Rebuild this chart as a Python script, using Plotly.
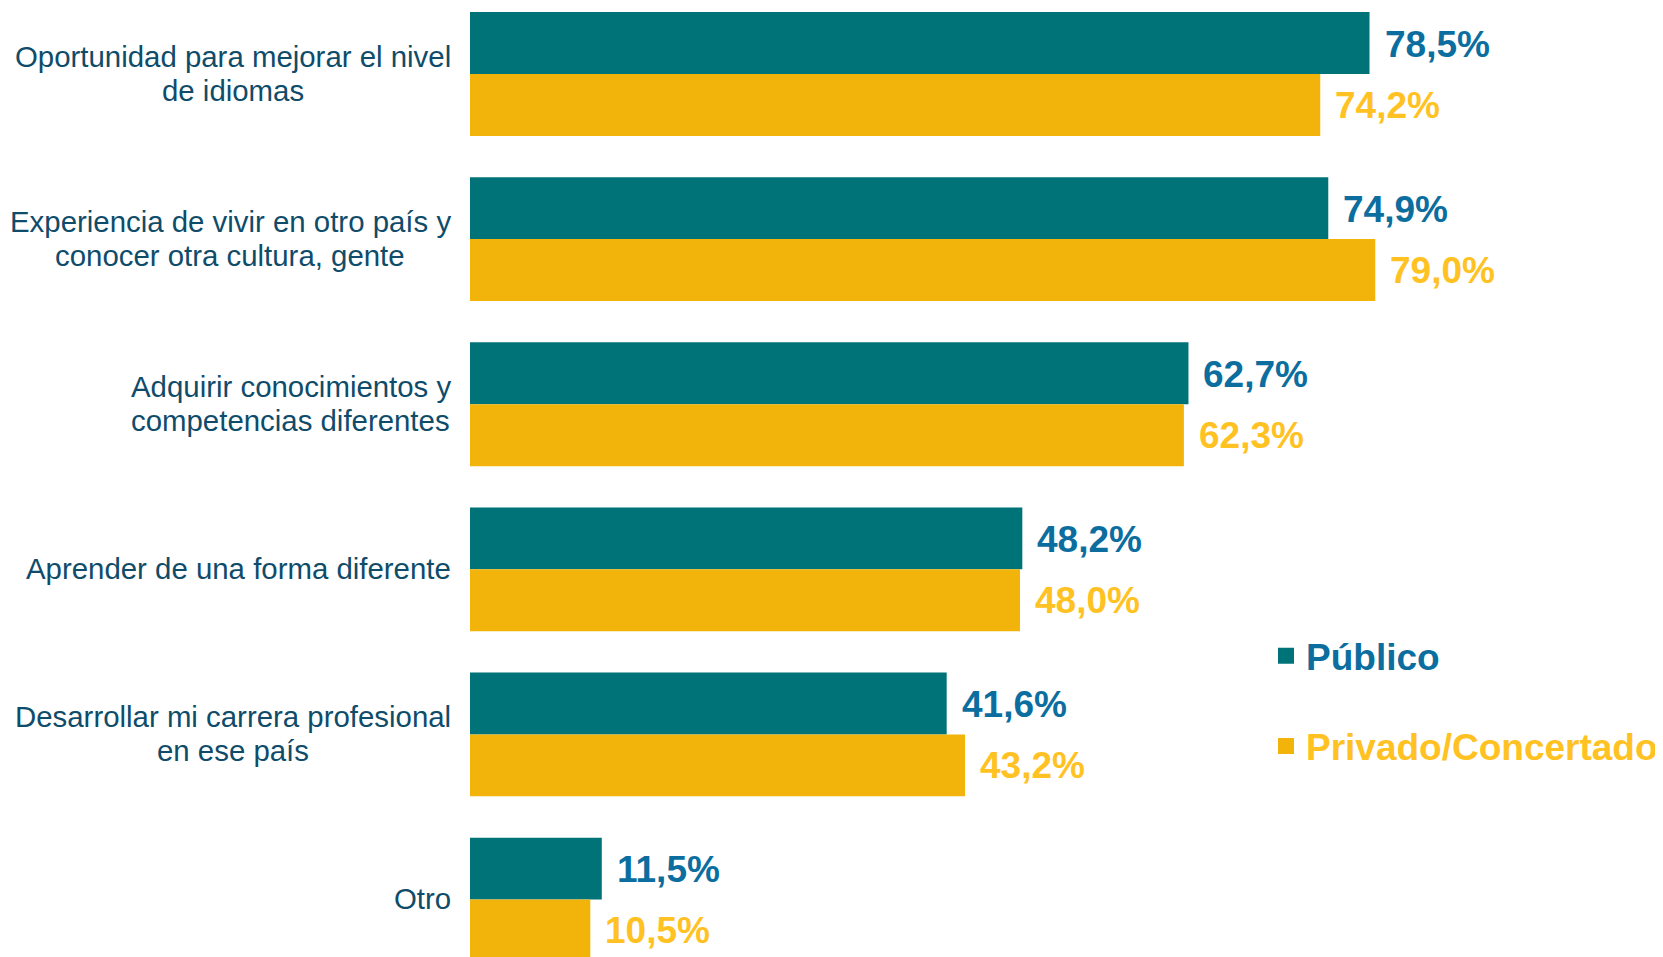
import plotly.graph_objects as go

categories = [
    "Oportunidad para mejorar el nivel<br>de idiomas",
    "Experiencia de vivir en otro país y<br>conocer otra cultura, gente",
    "Adquirir conocimientos y<br>competencias diferentes",
    "Aprender de una forma diferente",
    "Desarrollar mi carrera profesional<br>en ese país",
    "Otro",
]
publico = [78.5, 74.9, 62.7, 48.2, 41.6, 11.5]
privado = [74.2, 79.0, 62.3, 48.0, 43.2, 10.5]
series_names = ["Público", "Privado/Concertado"]

TEAL = "#007379"
YELLOW = "#F2B40A"
BLUE_TXT = "#0B6E9F"
YELLOW_TXT = "#FFC222"
LABEL_TXT = "#0F4C6A"
FONT = "Arial, Liberation Sans, sans-serif"
LABEL_SIZE = 29.4

# Arial / Liberation Sans advance widths (1/1000 em), used to centre multi-line labels
_W = {" ": 278, ",": 278, "a": 556, "b": 556, "c": 500, "d": 556, "e": 556, "f": 278,
      "g": 556, "h": 556, "i": 222, "j": 222, "k": 500, "l": 222, "m": 833, "n": 556,
      "o": 556, "p": 556, "q": 556, "r": 333, "s": 500, "t": 278, "u": 556, "v": 500,
      "w": 722, "x": 500, "y": 500, "z": 500, "í": 278, "A": 667, "D": 722, "E": 667,
      "O": 778}


def text_width(s, size):
    return sum(_W.get(ch, 556) for ch in s) / 1000 * size


fig = go.Figure()
fig.add_trace(go.Bar(y=categories, x=publico, orientation="h", marker_color=TEAL,
                     marker_line_width=0, showlegend=False, hoverinfo="skip"))
fig.add_trace(go.Bar(y=categories, x=privado, orientation="h", marker_color=YELLOW,
                     marker_line_width=0, showlegend=False, hoverinfo="skip"))

# legend proxies
fig.add_trace(go.Scatter(x=[None], y=[None], mode="markers",
                         marker=dict(symbol="square", size=18, color=TEAL),
                         name=f"<b><span style='color:{BLUE_TXT}'>{series_names[0]}</span></b>",
                         legendgroup="a"))
fig.add_trace(go.Scatter(x=[None], y=[None], mode="markers",
                         marker=dict(symbol="square", size=18, color=YELLOW),
                         name=f"<b><span style='color:{YELLOW_TXT}'>{series_names[1]}</span></b>",
                         legendgroup="b"))

LINE_SP = 34
RIGHT_GAP = -19
annotations = []
for cat, vp, vq in zip(categories, publico, privado):
    lines = cat.split("<br>")
    n = len(lines)
    block_w = max(text_width(l, LABEL_SIZE) for l in lines)
    for i, line in enumerate(lines):
        shift = ((n - 1) / 2 - i) * LINE_SP + 1
        annotations.append(dict(x=0, xref="paper", y=cat, yref="y", text=line, showarrow=False,
                                xanchor="center", align="center",
                                xshift=RIGHT_GAP - block_w / 2, yshift=shift,
                                font=dict(family=FONT, size=LABEL_SIZE, color=LABEL_TXT)))
    annotations.append(dict(x=vp, y=cat, text=f"<b>{vp:.1f}%</b>".replace(".", ","),
                            showarrow=False, xanchor="left", xshift=13, yshift=30,
                            font=dict(family=FONT, size=37, color=BLUE_TXT)))
    annotations.append(dict(x=vq, y=cat, text=f"<b>{vq:.1f}%</b>".replace(".", ","),
                            showarrow=False, xanchor="left", xshift=13, yshift=-31,
                            font=dict(family=FONT, size=37, color=YELLOW_TXT)))

fig.update_layout(
    width=1655, height=949,
    margin=dict(l=462, r=0, t=0, b=0),
    paper_bgcolor="white", plot_bgcolor="white",
    barmode="group", bargap=0.25, bargroupgap=0,
    font=dict(family=FONT),
    xaxis=dict(range=[0, 103.85], visible=False, fixedrange=True),
    yaxis=dict(range=[5.348, -0.3998], showticklabels=False, showgrid=False,
               zeroline=False, showline=False, ticks=""),
    annotations=annotations,
    legend=dict(x=0.669, xanchor="left", y=0.2695, yanchor="middle",
                font=dict(family=FONT, size=37), tracegroupgap=39,
                bgcolor="rgba(0,0,0,0)", itemclick=False),
    showlegend=True,
)
fig.write_html("out.html")
